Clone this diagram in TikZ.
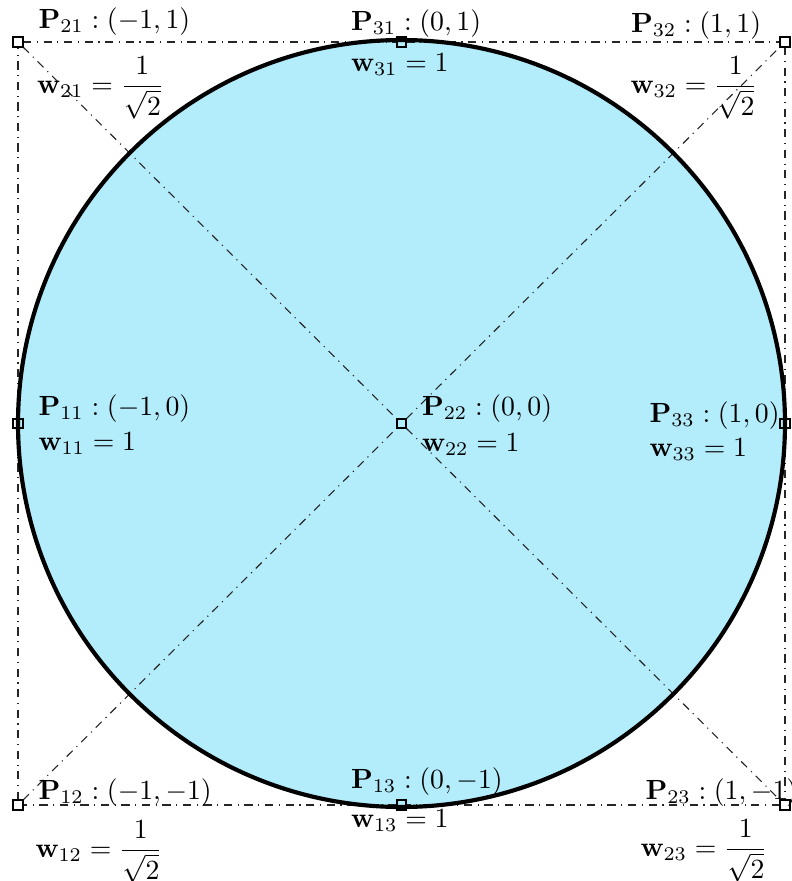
\documentclass[tikz,border=0pt]{standalone}
\usepackage{amsmath}
\definecolor{diskfill}{RGB}{179,236,251}
\tikzset{
  ctrl/.style={draw=black, line width=0.4pt, rectangle, inner sep=0pt, minimum size=3.2pt},
  cline/.style={dash dot, line width=0.4pt, black!85},
  lab/.style={anchor=base west, inner sep=0pt, font=\normalsize},
  rim/.style={line width=1.5pt, black}
}
\begin{document}
\begin{tikzpicture}[x=0.3605pt, y=-0.3605pt]
\useasboundingbox (0,0) rectangle (792,881);
\coordinate (c) at (401.5,423.5);
\fill[diskfill] (c) circle[radius=138.25pt];
% control points
\node[ctrl] (p21) at (18,42) {};
\node[ctrl] (p31) at (401.5,42) {};
\node[ctrl] (p32) at (785,42) {};
\node[ctrl] (p11) at (18,423.5) {};
\node[ctrl] (p22) at (401.5,423.5) {};
\node[ctrl] (p33) at (785,423.5) {};
\node[ctrl] (p12) at (18,805) {};
\node[ctrl] (p13) at (401.5,805) {};
\node[ctrl] (p23) at (785,805) {};
% control polygon
\draw[cline] (p21) -- (p31) -- (p32) -- (p33) -- (p23) -- (p13) -- (p12) -- (p11) -- (p21);
\draw[cline] (p21) -- (p22) -- (p23);
\draw[cline] (p12) -- (p22) -- (p32);
% circle rim
\draw[rim] (c) circle[radius=138.25pt];
% redraw control points on top
\foreach \n in {p21,p31,p32,p11,p22,p33,p12,p13,p23}{\draw[line width=0.4pt] (\n.south west) rectangle (\n.north east);}
% labels
\node[lab] (l21) at (38,28.5) {$\mathbf{P}_{21}:(-1,1)$};
\node[lab] (m21) at (36.5,93) {$\mathbf{w}_{21}=\dfrac{1}{\sqrt{2}}$};
\node[lab] (l31) at (350.5,30) {$\mathbf{P}_{31}:(0,1)$};
\node[lab] (m31) at (350.5,71.5) {$\mathbf{w}_{31}=1$};
\node[lab] (l32) at (630.5,32) {$\mathbf{P}_{32}:(1,1)$};
\node[lab] (m32) at (630,93) {$\mathbf{w}_{32}=\dfrac{1}{\sqrt{2}}$};
\node[lab] (l11) at (38,415) {$\mathbf{P}_{11}:(-1,0)$};
\node[lab] (m11) at (38,450) {$\mathbf{w}_{11}=1$};
\node[lab] (l22) at (421.5,415) {$\mathbf{P}_{22}:(0,0)$};
\node[lab] (m22) at (421.5,451) {$\mathbf{w}_{22}=1$};
\node[lab] (l33) at (649,422.5) {$\mathbf{P}_{33}:(1,0)$};
\node[lab] (m33) at (649,456) {$\mathbf{w}_{33}=1$};
\node[lab] (l12) at (38,799.5) {$\mathbf{P}_{12}:(-1,-1)$};
\node[lab] (m12) at (35,857) {$\mathbf{w}_{12}=\dfrac{1}{\sqrt{2}}$};
\node[lab] (l13) at (350.5,788) {$\mathbf{P}_{13}:(0,-1)$};
\node[lab] (m13) at (350.5,827) {$\mathbf{w}_{13}=1$};
\node[lab] (l23) at (645,799) {$\mathbf{P}_{23}:(1,-1)$};
\node[lab] (m23) at (640,856) {$\mathbf{w}_{23}=\dfrac{1}{\sqrt{2}}$};
\end{tikzpicture}
\end{document}
